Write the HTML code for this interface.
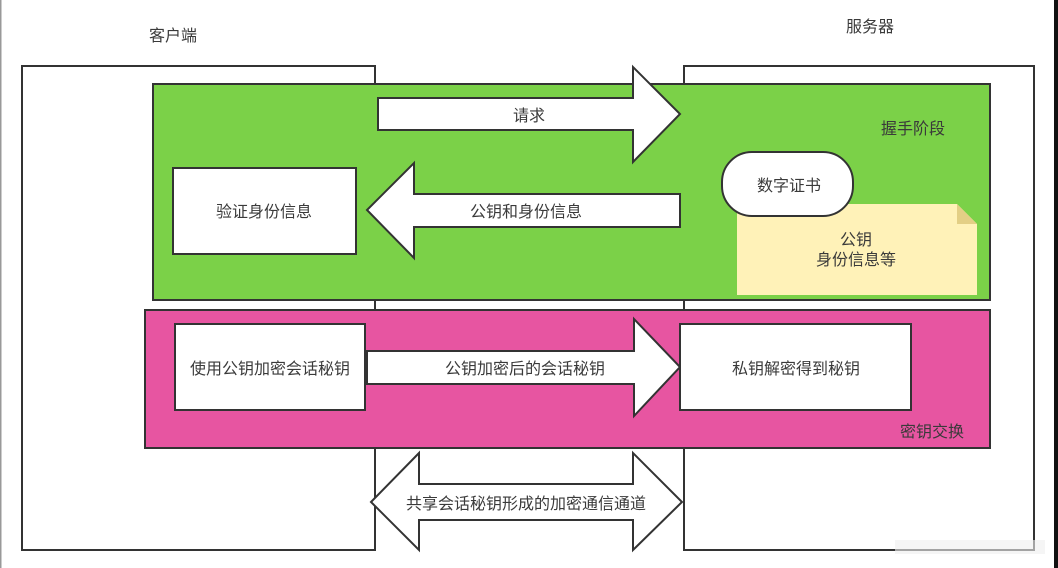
<!DOCTYPE html>
<html><head><meta charset="utf-8"><style>
html,body{margin:0;padding:0;background:#fff;width:1058px;height:568px;overflow:hidden}
svg text{font-family:"Liberation Sans","Noto Sans CJK SC",sans-serif;font-size:16px;fill:#3a3a3a}
</style></head><body>
<svg width="1058" height="568" viewBox="0 0 1058 568" xmlns="http://www.w3.org/2000/svg">
<rect x="0" y="0" width="1.5" height="568" fill="#999"/>
<rect x="1054" y="0" width="4" height="568" fill="#111"/>
<g stroke="#333" stroke-width="2" fill="#fff">
<rect x="22" y="66" width="353" height="484"/>
<rect x="684" y="66" width="350" height="484"/>
<rect x="153" y="84" width="837" height="216" fill="#7bd148"/>
<rect x="145" y="310" width="845" height="138" fill="#e755a1"/>
<polygon points="378,98 633,98 633,67 680,114 633,162 633,130 378,130"/>
<polygon points="367,210 414,163 414,194 680,194 680,227 414,227 414,258"/>
<rect x="173" y="168" width="183" height="86"/>
<polygon points="367,351 634,351 634,319 680,367 634,416 634,384 367,384"/>
<rect x="175" y="324" width="190" height="86"/>
<rect x="680" y="324" width="231" height="86"/>
<polygon points="371,502 419,453 419,484 633,484 633,453 682,502 633,550 633,520 419,520 419,550"/>
</g>
<polygon points="737,204 957,204 977,224 977,295 737,295" fill="#fff2b8"/>
<polygon points="957,204 977,224 957,224" fill="#e3cf85"/>
<rect x="722" y="152" width="131" height="64" rx="30" fill="#fff" stroke="#333" stroke-width="2"/>
<text x="173" y="41" text-anchor="middle">客户端</text>
<text x="870" y="32" text-anchor="middle">服务器</text>
<text x="529" y="121" text-anchor="middle">请求</text>
<text x="913" y="134" text-anchor="middle">握手阶段</text>
<text x="264" y="217" text-anchor="middle">验证身份信息</text>
<text x="526" y="217" text-anchor="middle">公钥和身份信息</text>
<text x="789" y="191" text-anchor="middle">数字证书</text>
<text x="856" y="245" text-anchor="middle">公钥</text>
<text x="856" y="265" text-anchor="middle">身份信息等</text>
<text x="270" y="374" text-anchor="middle">使用公钥加密会话秘钥</text>
<text x="525" y="374" text-anchor="middle">公钥加密后的会话秘钥</text>
<text x="796" y="374" text-anchor="middle">私钥解密得到秘钥</text>
<text x="932" y="437" text-anchor="middle">密钥交换</text>
<text x="526" y="509" text-anchor="middle">共享会话秘钥形成的加密通信通道</text>
<rect x="895" y="540" width="150" height="14" fill="#eee" opacity="0.6"/>
</svg>
</body></html>
